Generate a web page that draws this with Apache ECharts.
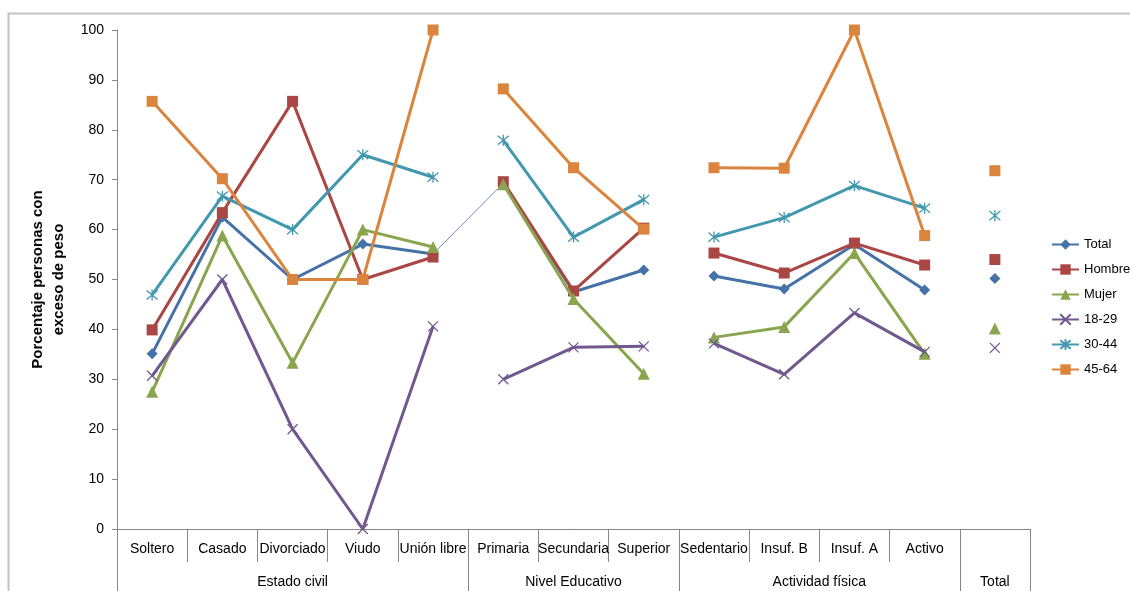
<!DOCTYPE html>
<html>
<head>
<meta charset="utf-8">
<script src="https://cdn.jsdelivr.net/npm/echarts@6/dist/echarts.min.js"></script>
<style>
  html, body { margin: 0; padding: 0; background: #fff; }
  #chart { width: 1130px; height: 591px; }
</style>
</head>
<body>
<div id="chart"></div>
<script>
// Categories along the x axis and the groups they belong to
const categories = ['Soltero', 'Casado', 'Divorciado', 'Viudo', 'Unión libre',
  'Primaria', 'Secundaria', 'Superior',
  'Sedentario', 'Insuf. B', 'Insuf. A', 'Activo', ''];
const groupNames = ['Estado civil', 'Nivel Educativo', 'Actividad física', 'Total'];
const groupStarts = [0, 5, 8, 12, 13];   // category index where each group begins (last = end)

const yTicks = [0, 10, 20, 30, 40, 50, 60, 70, 80, 90, 100];

// Percentage of people with excess weight
const total   = [35.1, 62.5, 50.0, 57.1, 55.1, 69.3, 47.5, 51.9, 50.7, 48.1, 57.0, 47.9, 50.2];
const hombre  = [39.9, 63.4, 85.7, 50.0, 54.5, 69.6, 47.7, 60.3, 55.3, 51.3, 57.3, 52.9, 54.0];
const mujer   = [27.5, 58.8, 33.3, 60.0, 56.5, 69.1, 46.1, 31.1, 38.4, 40.5, 55.3, 35.1, 40.2];
const age1829 = [30.7, 50.0, 20.0, 0.0, 40.6, 30.0, 36.4, 36.6, 37.2, 31.0, 43.3, 35.5, 36.3];
const age3044 = [46.9, 66.7, 60.0, 75.0, 70.5, 77.9, 58.5, 66.0, 58.5, 62.4, 68.8, 64.3, 62.8];
const age4564 = [85.7, 70.2, 50.0, 50.0, 100.0, 88.2, 72.4, 60.1, 72.4, 72.3, 100.0, 58.8, 71.8];

const crossPath = 'path://M0,0L10,10M10,0L0,10';
const starPath = 'path://M0,0L10,10M10,0L0,10M5,-1L5,11';

const seriesDefs = [
  { name: 'Total',  data: total,   color: '#4572A7', symbol: 'diamond',  size: 11 },
  { name: 'Hombre', data: hombre,  color: '#AA4643', symbol: 'rect',     size: 11 },
  { name: 'Mujer',  data: mujer,   color: '#89A54E', symbol: 'triangle', size: 12 },
  { name: '18-29',  data: age1829, color: '#71588F', symbol: crossPath,  size: 10, stroke: true },
  { name: '30-44',  data: age3044, color: '#4198AF', symbol: starPath,   size: 11, stroke: true },
  { name: '45-64',  data: age4564, color: '#DB843D', symbol: 'rect',     size: 11 }
];

const FONT = '"Liberation Sans", Arial, sans-serif';
const series = [];

// Thin connector drawn between the first two groups for the Total series
series.push({
  type: 'line',
  name: 'connector',
  data: total.map((v, i) => (i === 4 || i === 5) ? v : null),
  showSymbol: false,
  symbol: 'none',
  lineStyle: { color: '#4572A7', width: 0.8 },
  itemStyle: { color: '#4572A7' },
  silent: true,
  z: 1
});

// Each series is split into one line per group so lines break between groups
seriesDefs.forEach((d, si) => {
  for (let g = 0; g < groupNames.length; g++) {
    const a = groupStarts[g], b = groupStarts[g + 1];
    series.push({
      type: 'line',
      name: d.name,
      data: d.data.map((v, i) => (i >= a && i < b) ? v : null),
      symbol: d.symbol,
      symbolSize: d.size,
      showSymbol: true,
      showAllSymbol: true,
      connectNulls: false,
      lineStyle: { color: d.color, width: 3 },
      itemStyle: d.stroke
        ? { color: d.color, borderColor: d.color, borderWidth: 1.3 }
        : { color: d.color, borderWidth: 0 },
      emphasis: { disabled: true },
      z: 2 + si
    });
  }
});

const chart = echarts.init(document.getElementById('chart'), null, { renderer: 'canvas' });

chart.setOption({
  animation: false,
  backgroundColor: '#ffffff',
  textStyle: { fontFamily: FONT },
  graphic: [{
    type: 'rect',
    silent: true,
    shape: { x: 8.5, y: 13.5, width: 1300, height: 800 },
    style: { fill: 'none', stroke: '#c3c3c3', lineWidth: 2 }
  }],
  grid: { left: 117, right: 100, top: 30, bottom: 62, containLabel: false },
  legend: {
    orient: 'vertical',
    left: 1051,
    top: 238,
    padding: 0,
    itemWidth: 27,
    itemHeight: 13,
    itemGap: 12,
    data: seriesDefs.map(d => d.name),
    textStyle: { fontFamily: FONT, fontSize: 13, color: '#000' },
    selectedMode: false
  },
  xAxis: [
    {
      type: 'category',
      data: categories,
      boundaryGap: true,
      position: 'bottom',
      axisLine: { show: true, lineStyle: { color: '#868686', width: 1 } },
      axisTick: { show: true, interval: 0, length: 33, lineStyle: { color: '#868686' } },
      axisLabel: { interval: 0, margin: 13, fontSize: 14, color: '#000', fontFamily: FONT },
      splitLine: { show: false }
    },
    {
      type: 'value',
      min: 0,
      max: 13,
      position: 'bottom',
      axisLine: { show: false },
      axisTick: {
        show: true,
        customValues: groupStarts,
        length: 64,
        lineStyle: { color: '#868686' }
      },
      axisLabel: {
        customValues: groupStarts.slice(0, -1).map((s, g) => (s + groupStarts[g + 1]) / 2),
        formatter: function (v) {
          for (let g = 0; g < groupNames.length; g++) {
            if (Math.abs(v - (groupStarts[g] + groupStarts[g + 1]) / 2) < 1e-6) return groupNames[g];
          }
          return '';
        },
        margin: 46,
        fontSize: 14,
        color: '#000',
        fontFamily: FONT
      },
      splitLine: { show: false }
    }
  ],
  yAxis: {
    type: 'value',
    min: yTicks[0],
    max: yTicks[yTicks.length - 1],
    interval: 10,
    name: 'Porcentaje personas con\nexceso de peso',
    nameLocation: 'middle',
    nameRotate: 90,
    nameGap: 42,
    nameTextStyle: { fontFamily: FONT, fontSize: 15, fontWeight: 'bold', color: '#000', lineHeight: 21 },
    axisLine: { show: true, lineStyle: { color: '#868686', width: 1 } },
    axisTick: { show: true, length: 5, lineStyle: { color: '#868686' } },
    axisLabel: { margin: 13, fontSize: 14, color: '#000', fontFamily: FONT },
    splitLine: { show: false }
  },
  series: series
});
</script>
</body>
</html>
